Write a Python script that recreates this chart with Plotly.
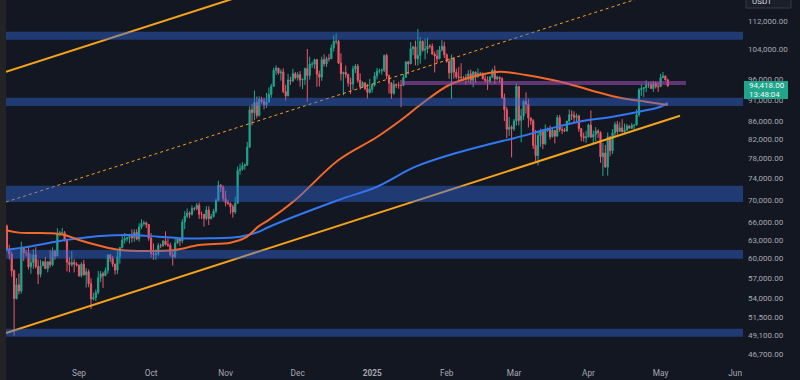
import plotly.graph_objects as go
import pandas as pd

# ---------------- data (BTC/USDT daily, Aug 1 2024 - May 4 2025) ----------------
first_open = 64620
close = [
    65350, 61500, 60700, 58100, 54000, 56000, 55100, 61700, 60900, 60900, 58700, 59350, 60600, 58740, 57560, 58870,
    59490, 58430, 59480, 59030, 61160, 60380, 64100, 64180, 64220, 62830, 59420, 59030, 59370, 59120, 58970,
    57330, 59120, 57480, 57970, 56160, 53960, 54160, 54870, 57040, 57650, 57340, 58130, 60570, 60010, 59130,
    58210, 60310, 61760, 62950, 63200, 63350, 63580, 63340, 64260, 63150, 65180, 65770, 65860, 65600, 63300,
    60800, 60650, 60750, 62080, 62060, 62820, 62220, 62130, 60580, 60270, 62450, 63190, 62850, 66050, 67040,
    67610, 67400, 68420, 68360, 69000, 67370, 67370, 66650, 68160, 66640, 67010, 67940, 69900, 72720, 72340, 70220,
    69480, 69360, 68730, 67800, 69370, 75570, 75860, 76510, 76700, 80370, 88650, 87950, 90380, 87330, 91060,
    90580, 89850, 90460, 92310, 94290, 98320, 98890, 97670, 97900, 93010, 91960, 95860, 95640, 97460, 96410,
    97190, 95840, 96000, 98770, 96990, 99920, 99920, 101110, 97350, 96590, 101120, 100000, 101420, 101370, 104300,
    106030, 106140, 100200, 97460, 97800, 97290, 95190, 94890, 98680, 99400, 95760, 94170, 95160, 93720, 92790, 93580,
    94590, 96890, 98110, 98240, 98360, 102240, 96950, 95060, 92550, 94730, 94560, 94520, 94500, 96530, 100500,
    99990, 104080, 104560, 101330, 102260, 106140, 103650, 103960, 104820, 104710, 102590, 102080, 101330, 103730,
    104730, 102430,
    100640, 97690, 101400, 97870, 96620, 96550, 96470, 96500, 96440, 97430, 95780, 97870, 96620, 97510, 97570,
    96120, 95770, 95540, 96640, 98310, 96120, 96580, 96270, 91550, 88650, 84250, 84700, 84350,
    86060, 94270, 86220, 87220, 90620, 89960, 86740, 86150, 80730, 78600, 82860, 83720, 81070, 83970, 84340,
    82580, 84010, 82720, 86850, 84170, 84040, 83830, 86080, 87500, 87420, 86900, 87230, 84350, 82650, 82390, 82550,
    85160, 82520, 83100, 83840, 83500, 78370, 79140, 76270, 82570, 79630, 83400, 85280, 83740, 84540, 83670,
    84030, 84950, 84450, 85060, 85170, 87520, 93440, 93700, 93980, 94640, 94650, 93750, 94980, 94280, 94170,
    96490, 96890, 95860, 94418,
]
high = [
    65600, 65600, 62200, 61100, 58300, 57000, 57700, 62700, 61800, 61450, 61850, 60700, 61500, 61800, 59850, 59800,
    59650, 60250, 59600, 61400, 61800, 61400, 64950, 64500, 65000, 64500, 63200, 60250, 61200, 59900, 59450,
    59050, 59400, 59800, 58500, 58300, 56950, 54850, 55300, 58100, 58050, 57950, 58600, 60650, 60650, 60400,
    59200, 61300, 61800, 63850, 64150, 63550, 64000, 64750, 64800, 64800, 65800, 66500, 66250, 66100, 65650,
    64150, 62400, 61450, 62500, 62400, 62950, 64450, 63200, 62550, 61300, 63400, 63450, 63300, 66500, 67950,
    68400, 67900, 68950, 68700, 69400, 69500, 67850, 67450, 68850, 68800, 67450, 68350, 70250, 73600, 72950, 72700,
    71650, 70000, 69450, 69100, 70550, 76400, 76950, 77250, 76950, 81500, 89500, 89950, 93250, 91800, 91850,
    91750, 91450, 92650, 94000, 94900, 99000, 99600, 98950, 98600, 98850, 94650, 97350, 96650, 98700, 97900,
    97850, 98150, 96300, 99000, 104000, 101900, 100550, 101400, 101300, 98250, 101900, 102550, 101900, 102650, 105250,
    107800, 108350, 106500, 102800, 98000, 99550, 97450, 96450, 99500, 99950, 99950, 97550, 95550, 95250, 94900, 96150,
    95000, 97850, 98950, 98750, 98800, 102500, 102700, 97250, 95350, 95850, 95000, 95400, 95900, 97350, 100700,
    100800, 105900, 104900, 106300, 109600, 107250, 106350, 106850, 107100, 105300, 105500, 103250, 103800, 104800,
    106450, 106000,
    102800, 101450, 102500, 101750, 98800, 99200, 100150, 96900, 97350, 98350, 98500, 98150, 98050, 98800, 97950,
    97750, 97050, 96750, 96900, 98750, 99500, 96950, 96700, 96500, 92500, 89300, 87000, 85100,
    86550, 95000, 94400, 88900, 91000, 92800, 91250, 86900, 86500, 84100, 83600, 84350, 84300, 85300, 84650,
    85050, 84700, 84000, 87450, 87450, 84850, 84550, 86100, 88750, 88550, 88300, 87800, 87500, 84550, 83500, 83900,
    85500, 88500, 83950, 84700, 84250, 83800, 81250, 80850, 83550, 82700, 84250, 85900, 86100, 85800, 86500,
    85500, 85450, 85100, 85600, 85300, 88750, 93850, 94700, 94050, 95800, 95300, 95350, 95600, 95450, 95200,
    97400, 97900, 96950, 96200,
]
low = [
    62250, 61100, 59850, 57200, 49000, 53900, 54600, 54750, 59600, 60300, 58300, 57650, 58400, 58450, 56100, 57100,
    58800, 58400, 57850, 58600, 58800, 59800, 60350, 63600, 63800, 62800, 58000, 57850, 58750, 57850, 58750,
    57200, 57100, 57400, 55600, 55650, 52550, 53750, 53650, 54600, 56400, 55550, 57350, 57650, 59450, 58700,
    57500, 57600, 59200, 61600, 62400, 62750, 62400, 62600, 62700, 62950, 62700, 64800, 65400, 65000, 62850,
    60150, 59800, 59800, 60450, 61650, 61850, 62100, 61850, 60300, 58900, 60050, 62450, 62000, 62450, 64800,
    66750, 66700, 67150, 68000, 68100, 66550, 66550, 65250, 66350, 65500, 66450, 66800, 67550, 69700, 71450, 69700,
    68800, 69050, 67450, 66800, 67450, 69300, 74750, 75550, 75750, 76500, 80200, 85100, 86250, 86700, 87100,
    90100, 88750, 89100, 90400, 91500, 94100, 97200, 97200, 95700, 92600, 90800, 91800, 94650, 95350, 96000,
    95700, 94200, 93600, 94650, 90500, 95950, 98950, 98700, 94150, 94250, 95650, 99300, 99200, 100600, 101250,
    103300, 105300, 100000, 95700, 92100, 96400, 94200, 92400, 93400, 97600, 95150, 93500, 94000, 93300, 91300, 92500,
    92750, 94200, 96000, 97500, 97250, 97900, 96100, 92500, 91200, 92200, 93850, 93700, 89250, 94300, 96450,
    97300, 99950, 102300, 99600, 99550, 100050, 103250, 101200, 102750, 104100, 102500, 97750, 100250, 101300,
    103300, 101550,
    100300, 96150, 91250, 96200, 96150, 95650, 95650, 95700, 94700, 95250, 94850, 94050, 95200, 96450, 97100,
    96050, 95200, 93400, 95050, 96400, 94850, 95750, 95250, 91150, 86050, 82250, 82800, 78250,
    83850, 85050, 85100, 81400, 86350, 87800, 84650, 85200, 80000, 77450, 76600, 80450, 79950, 80800, 83650,
    82000, 82500, 81150, 82650, 83650, 83200, 83650, 83750, 85550, 86300, 85850, 85850, 83650, 81650, 81550, 81300,
    82450, 82300, 81200, 81650, 82350, 77150, 74500, 76200, 74600, 78450, 78950, 82300, 83050, 83700, 83600,
    83100, 83950, 84300, 84350, 83950, 85100, 87050, 91950, 91650, 92850, 93900, 93600, 92900, 93750, 92900,
    94100, 96300, 95750, 94100,
]
open_ = [first_open] + close[:-1]

# 100-day (orange) and 200-day (blue) moving averages
ma100_dates = ["2024-08-01", "2024-08-07", "2024-08-20", "2024-08-26", "2024-09-01", "2024-09-10", "2024-09-18",
               "2024-09-30", "2024-10-11", "2024-10-21", "2024-11-03", "2024-11-09", "2024-11-15", "2024-11-19",
               "2024-11-30", "2024-12-18", "2025-01-03", "2025-01-13", "2025-01-22", "2025-02-02", "2025-02-12",
               "2025-02-23", "2025-03-06", "2025-03-17", "2025-03-28", "2025-04-04", "2025-04-15", "2025-04-25",
               "2025-05-04"]
ma100_vals = [64680, 64220, 64120, 63830, 62990, 62010, 61370, 61210, 61370, 62170, 62550, 63320, 65360, 66400,
              69960, 77700, 82540, 86300, 90240, 94610, 96690, 97970, 97120, 95860, 94190, 92960, 91360, 90550, 89770]
ma200_dates = ["2024-08-01", "2024-08-11", "2024-08-24", "2024-09-01", "2024-09-10", "2024-09-22", "2024-10-04",
               "2024-10-13", "2024-10-25", "2024-11-07", "2024-11-15", "2024-11-19", "2024-12-18", "2025-01-03",
               "2025-01-19", "2025-02-05", "2025-02-19", "2025-03-01", "2025-03-15", "2025-03-28", "2025-04-11",
               "2025-04-22", "2025-05-01", "2025-05-04"]
ma200_vals = [61370, 61890, 62830, 63270, 63660, 63830, 63540, 63270, 63270, 63540, 64380, 65180, 69960, 72440,
              76350, 79140, 81030, 82280, 84230, 85920, 87050, 88200, 89370, 90310]

# horizontal zones (low, high)
zones = [(106550, 108810), (89530, 91500), (69590, 72630), (59980, 61370), (48870, 49910)]
purple_band = (94610, 95610)
purple_dates = ("2025-01-13 10:00", "2025-05-11 14:00")

# trend lines
lower_line_dates = ["2024-08-01 15:00", "2025-05-09 02:00"]
lower_line_vals = [49350, 87280]
upper_line_dates = ["2024-08-01 15:00", "2024-12-01 00:00"]
upper_line_vals = [97970, 125300]
mid_line_dates = ["2024-08-01 15:00", "2025-05-17 10:00"]
mid_line_vals = [69590, 125070]

y_ticks = [112000, 104000, 96000, 91000, 86000, 82000, 78000, 74000, 70000, 66000, 63000, 60000, 57000,
           54000, 51500, 49100, 46700]
x_ticks = ["2024-09-01", "2024-10-01", "2024-11-01", "2024-12-01", "2025-01-01", "2025-02-01", "2025-03-01",
           "2025-04-01", "2025-05-01", "2025-06-01"]
x_labels = ["Sep", "Oct", "Nov", "Dec", "<b>2025</b>", "Feb", "Mar", "Apr", "May", "Jun"]
last_price = "94,418.00"
countdown = "13:48:04"

# ---------------- styling ----------------
BG = "#131722"
GREEN = "#22a78f"
RED = "#ec5868"
TREND = "#f7a21b"
ZONE = "rgba(50,108,230,0.42)"
TXT = "#a6a9b2"
FONT = "Roboto"

X_RANGE = ["2024-08-01 15:00", "2025-06-04 07:00"]
Y_RANGE = [4.65449, 5.07282]

dates = pd.date_range("2024-08-01", periods=len(close), freq="D")

fig = go.Figure()

fig.add_trace(go.Scatter(x=upper_line_dates, y=upper_line_vals, mode="lines",
                         line=dict(color=TREND, width=2), hoverinfo="skip"))
fig.add_trace(go.Scatter(x=mid_line_dates, y=mid_line_vals, mode="lines",
                         line=dict(color=TREND, width=1, dash="dot"), hoverinfo="skip"))
fig.add_trace(go.Scatter(x=lower_line_dates, y=lower_line_vals, mode="lines",
                         line=dict(color=TREND, width=2), hoverinfo="skip"))

fig.add_trace(go.Candlestick(
    x=dates, open=open_, high=high, low=low, close=close,
    increasing=dict(line=dict(color=GREEN, width=1), fillcolor=GREEN),
    decreasing=dict(line=dict(color=RED, width=1), fillcolor=RED),
    whiskerwidth=0, hoverinfo="skip"))

fig.add_trace(go.Scatter(x=ma200_dates, y=ma200_vals, mode="lines",
                         line=dict(color="#3178f2", width=2, shape="spline"), hoverinfo="skip"))
fig.add_trace(go.Scatter(x=ma100_dates, y=ma100_vals, mode="lines",
                         line=dict(color="#f2692a", width=2, shape="spline"), hoverinfo="skip"))

# zones as filled rectangles in data coordinates
for lo, hi in zones:
    x0, x1 = "2024-07-20", "2025-06-20"
    fig.add_trace(go.Scatter(x=[x0, x1, x1, x0, x0], y=[lo, lo, hi, hi, lo], mode="lines",
                             fill="toself", fillcolor=ZONE, line=dict(width=0), hoverinfo="skip"))
p0, p1 = purple_dates
fig.add_trace(go.Scatter(x=[p0, p1, p1, p0, p0],
                         y=[purple_band[0], purple_band[0], purple_band[1], purple_band[1], purple_band[0]],
                         mode="lines", fill="toself", fillcolor="rgba(160,80,180,0.55)",
                         line=dict(width=0), hoverinfo="skip"))

PW = 737.0
PH = 367.0


def px(xp):
    return (xp - 6) / PW


def py(yp):
    return 1 - yp / PH


shapes = [
    dict(type="rect", xref="paper", yref="paper", x0=px(0), x1=px(6), y0=py(380), y1=py(0),
         fillcolor="#232326", line=dict(width=0), layer="above"),
    dict(type="rect", xref="paper", yref="paper", x0=px(744), x1=px(788), y0=py(99), y1=py(81),
         fillcolor="#1fa58c", line=dict(width=0), layer="above"),
    dict(type="rect", xref="paper", yref="paper", x0=px(746), x1=px(791), y0=py(8), y1=py(-3),
         fillcolor="#1b1f2a", line=dict(color="#363a46", width=1), layer="above"),
]
annotations = [
    dict(xref="paper", yref="paper", x=px(747), y=py(85.5), xanchor="left", yanchor="middle",
         text=last_price, showarrow=False, font=dict(family=FONT, size=8, color="#eef7f5")),
    dict(xref="paper", yref="paper", x=px(747), y=py(94.5), xanchor="left", yanchor="middle",
         text=countdown, showarrow=False, font=dict(family=FONT, size=8, color="#eef7f5")),
    dict(xref="paper", yref="paper", x=px(750), y=py(1), xanchor="left", yanchor="middle",
         text="USDT", showarrow=False, font=dict(family=FONT, size=8, color="#d8dae0")),
]

fig.update_layout(
    width=800, height=380,
    margin=dict(l=6, r=57, t=0, b=13),
    paper_bgcolor=BG, plot_bgcolor=BG,
    showlegend=False,
    shapes=shapes,
    annotations=annotations,
    xaxis=dict(type="date", range=X_RANGE, showgrid=False, zeroline=False, showline=False,
               rangeslider=dict(visible=False), tickvals=x_ticks, ticktext=x_labels,
               tickfont=dict(family=FONT, size=8.3, color=TXT), ticks=""),
    yaxis=dict(type="log", range=Y_RANGE, side="right", showgrid=False, zeroline=False, showline=False,
               tickvals=y_ticks, ticktext=[f"{v:,.2f}" for v in y_ticks],
               tickfont=dict(family=FONT, size=8, color=TXT), ticks="", ticklabelstandoff=4),
)

fig.write_html("out.html", config={"displayModeBar": False},
               post_script="document.body.style.margin='0';document.body.style.background='#131722';")
